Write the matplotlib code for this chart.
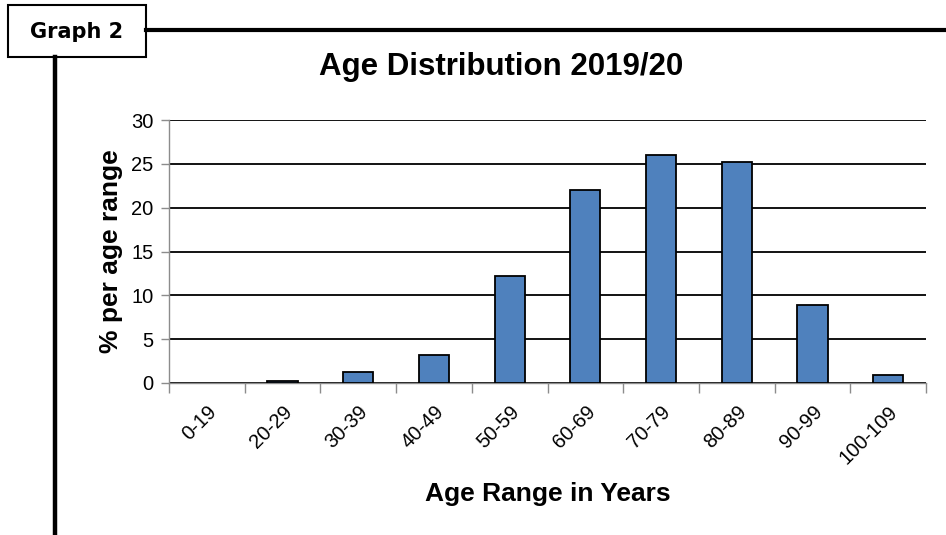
import numpy as np
import matplotlib.pyplot as plt
from matplotlib.lines import Line2D
from matplotlib.patches import Rectangle

plt.rcParams['font.family'] = ['Liberation Sans', 'DejaVu Sans']

age_ranges = ['0-19', '20-29', '30-39', '40-49', '50-59',
              '60-69', '70-79', '80-89', '90-99', '100-109']
pct_per_range = [0, 0.2, 1.3, 3.2, 12.2, 22.0, 26.0, 25.2, 8.9, 0.9]
y_ticks = [0, 5, 10, 15, 20, 25, 30]

W, H = 946, 535
fig = plt.figure(figsize=(W / 100, H / 100), dpi=100)

# page frame: label box, rule across the top, rule down the left
fig.patches.append(Rectangle((8 / W, 1 - 57 / H), 138 / W, 52 / H,
                             transform=fig.transFigure, fill=False,
                             edgecolor='black', linewidth=1.5))
fig.lines.append(Line2D([146 / W, 1], [1 - 30 / H] * 2,
                        transform=fig.transFigure, color='black', linewidth=3))
fig.lines.append(Line2D([55 / W] * 2, [1 - 57 / H, 0],
                        transform=fig.transFigure, color='black', linewidth=3.2))
fig.text(77 / W, 1 - 38 / H, 'Graph 2', ha='center', va='baseline',
         fontsize=15, fontweight='bold', family=['DejaVu Sans'])

ax = fig.add_axes([169 / W, 1 - 383 / H, (926 - 169) / W, (383 - 120) / H])
x = np.arange(len(age_ranges))
edges = ['black' if v > 0 else 'none' for v in pct_per_range]
ax.bar(x, pct_per_range, width=0.4, color='#4F81BD', edgecolor=edges,
       linewidth=1.3, zorder=3)

ax.set_xlim(-0.5, len(age_ranges) - 0.5)
ax.set_ylim(0, 30)
ax.set_yticks(y_ticks)
ax.yaxis.grid(True, color='black', linewidth=1.3, zorder=0)
ax.set_axisbelow(True)

for side in ['top', 'right']:
    ax.spines[side].set_visible(False)
for side in ['left', 'bottom']:
    ax.spines[side].set_color('#8c8c8c')
    ax.spines[side].set_linewidth(1.0)

# category labels at centres, tick marks between categories
ax.set_xticks(x)
ax.set_xticklabels(age_ranges, rotation=45, ha='right', va='top',
                   rotation_mode='anchor', fontsize=14.5)
ax.tick_params(axis='x', which='major', length=0, pad=14)
ax.set_xticks(np.arange(-0.5, len(age_ranges)), minor=True)
ax.tick_params(axis='x', which='minor', length=7, color='#8c8c8c', width=1)
ax.tick_params(axis='y', length=6, color='#8c8c8c', width=1, labelsize=14.5, pad=5)

ax.set_ylabel('% per age range', fontsize=19, fontweight='bold', labelpad=6)
ax.set_xlabel('Age Range in Years', fontsize=19, fontweight='bold', labelpad=10)
fig.text(501 / W, 1 - 74.5 / H, 'Age Distribution 2019/20', ha='center',
         va='baseline', fontsize=22.5, fontweight='bold')

fig.savefig('out.png', dpi=100)
